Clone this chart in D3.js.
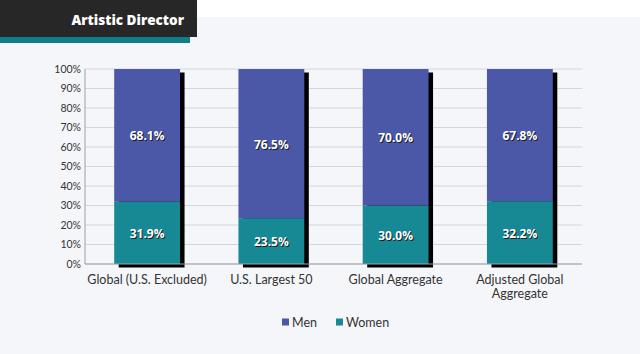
<!DOCTYPE html>
<html>
<head>
<meta charset="utf-8">
<script src="https://cdnjs.cloudflare.com/ajax/libs/d3/7.8.5/d3.min.js"></script>
<style>
  body { margin: 0; background: #ffffff; }
  svg { display: block; }
</style>
</head>
<body>
<div id="chart"></div>
<script>
// Data
const categories = ["Global (U.S. Excluded)", "U.S. Largest 50", "Global Aggregate", "Adjusted Global Aggregate"];
const women = [31.9, 23.5, 30.0, 32.2];
const men = [68.1, 76.5, 70.0, 67.8];
const yTicks = [0, 10, 20, 30, 40, 50, 60, 70, 80, 90, 100];

const width = 640;
const height = 354;
const margin = { top: 69, right: 58, bottom: 90, left: 85 };

const colors = { Men: "#4b58a7", Women: "#168995" };

const svg = d3.select("#chart")
  .append("svg")
  .attr("width", width)
  .attr("height", height)
  .style("font-family", "Lato, 'Open Sans', sans-serif");

// light page background under the header strip
svg.append("rect")
  .attr("x", 0).attr("y", 17)
  .attr("width", width).attr("height", height - 17)
  .attr("fill", "#f5f6fa");

// header box
svg.append("rect")
  .attr("x", 0).attr("y", 37)
  .attr("width", 190).attr("height", 6)
  .attr("fill", "#0f7e8b");
svg.append("rect")
  .attr("x", 0).attr("y", 0)
  .attr("width", 197).attr("height", 37)
  .attr("fill", "#272727");
svg.append("text")
  .attr("x", 184).attr("y", 25)
  .attr("text-anchor", "end")
  .attr("fill", "#ffffff")
  .style("font-family", "'Open Sans', sans-serif")
  .style("font-weight", "800")
  .style("font-size", "13.5px")
  .text("Artistic Director");

const x = d3.scaleBand()
  .domain(categories)
  .range([margin.left, width - margin.right])
  .paddingInner(0.47)
  .paddingOuter(0.235);

const y = d3.scaleLinear()
  .domain([0, 100])
  .range([height - margin.bottom, margin.top]);

// grid lines
svg.append("g")
  .selectAll("line")
  .data(yTicks)
  .enter()
  .append("line")
  .attr("x1", margin.left)
  .attr("x2", width - margin.right)
  .attr("y1", d => y(d))
  .attr("y2", d => y(d))
  .attr("stroke", "#d6d6da")
  .attr("stroke-width", 1);

// shadows behind bars
svg.append("g")
  .selectAll("rect")
  .data(categories)
  .enter()
  .append("rect")
  .attr("x", d => x(d) + 4.5)
  .attr("y", y(100) + 3.5)
  .attr("width", x.bandwidth())
  .attr("height", y(0) - y(100))
  .attr("fill", "#000000");

// stacked bars
const rows = categories.map((c, i) => ({ cat: c, Women: women[i], Men: men[i] }));
const stack = d3.stack().keys(["Women", "Men"])(rows);

svg.append("g")
  .selectAll("g")
  .data(stack)
  .enter()
  .append("g")
  .attr("fill", d => colors[d.key])
  .selectAll("rect")
  .data(d => d)
  .enter()
  .append("rect")
  .attr("x", d => x(d.data.cat))
  .attr("y", d => y(d[1]))
  .attr("width", x.bandwidth())
  .attr("height", d => y(d[0]) - y(d[1]));

// value labels
stack.forEach(layer => {
  layer.forEach(d => {
    const cx = x(d.data.cat) + x.bandwidth() / 2;
    const cy = y((d[0] + d[1]) / 2) + 5;
    const label = d.data[layer.key].toFixed(1) + "%";
    svg.append("text")
      .attr("x", cx + 1).attr("y", cy + 1)
      .attr("text-anchor", "middle")
      .attr("fill", "#1a1a1a")
      .style("font-family", "'Open Sans', sans-serif")
      .style("font-weight", "700")
      .style("font-size", "12px")
      .text(label);
    svg.append("text")
      .attr("x", cx).attr("y", cy)
      .attr("text-anchor", "middle")
      .attr("fill", "#ffffff")
      .style("font-family", "'Open Sans', sans-serif")
      .style("font-weight", "700")
      .style("font-size", "12px")
      .text(label);
  });
});

// axes lines
svg.append("line")
  .attr("x1", margin.left).attr("x2", margin.left)
  .attr("y1", y(100)).attr("y2", y(0))
  .attr("stroke", "#a0a0a4");
svg.append("line")
  .attr("x1", margin.left).attr("x2", width - margin.right)
  .attr("y1", y(0)).attr("y2", y(0))
  .attr("stroke", "#a0a0a4");

// y tick labels
svg.append("g")
  .selectAll("text")
  .data(yTicks)
  .enter()
  .append("text")
  .attr("x", margin.left - 4)
  .attr("y", d => y(d) + 3.5)
  .attr("text-anchor", "end")
  .attr("fill", "#333333")
  .style("font-size", "10.5px")
  .text(d => d + "%");

// category labels (wrap the long one)
const catLines = {
  "Adjusted Global Aggregate": ["Adjusted Global", "Aggregate"]
};
categories.forEach(c => {
  const lines = catLines[c] || [c];
  const t = svg.append("text")
    .attr("text-anchor", "middle")
    .attr("fill", "#333333")
    .style("font-size", "12.5px");
  lines.forEach((l, i) => {
    t.append("tspan")
      .attr("x", x(c) + x.bandwidth() / 2)
      .attr("y", 284 + i * 14)
      .text(l);
  });
});

// legend
const legendItems = [["Men", 282], ["Women", 336]];
legendItems.forEach(([key, lx]) => {
  svg.append("rect")
    .attr("x", lx).attr("y", 318.5)
    .attr("width", 7).attr("height", 7)
    .attr("fill", colors[key]);
  svg.append("text")
    .attr("x", lx + 10).attr("y", 326.5)
    .attr("fill", "#333333")
    .style("font-size", "12.5px")
    .text(key);
});
</script>
</body>
</html>
